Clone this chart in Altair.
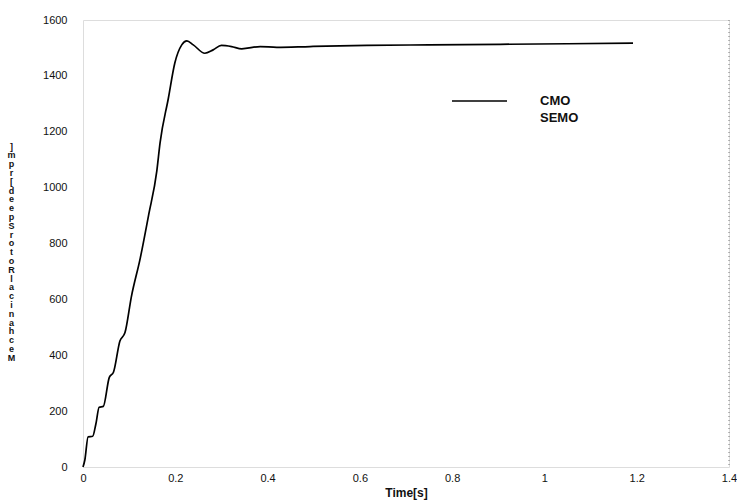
import altair as alt
import pandas as pd

# Time [s] and mechanical rotor speed [rpm]
time_s = [0.000, 0.004, 0.011, 0.021, 0.028, 0.035, 0.044, 0.057, 0.066, 0.080,
          0.091, 0.105, 0.124, 0.142, 0.160, 0.167, 0.185, 0.199, 0.214, 0.225,
          0.239, 0.264, 0.282, 0.300, 0.322, 0.344, 0.384, 0.420, 0.492, 0.615,
          0.750, 0.904, 1.050, 1.192]
speed_rpm = [0, 25, 108, 110, 155, 214, 217, 321, 339, 451,
             481, 611, 747, 900, 1060, 1160, 1320, 1446, 1511, 1525,
             1511, 1481, 1493, 1509, 1505, 1497, 1505, 1502, 1505, 1509,
             1511, 1513, 1515, 1517]

x_ticks = [0, 0.2, 0.4, 0.6, 0.8, 1.0, 1.2, 1.4]
y_ticks = [0, 200, 400, 600, 800, 1000, 1200, 1400, 1600]
legend_labels = ["CMO", "SEMO"]
y_title = "Mechanical Rotor Speed[rpm]"
x_title = "Time[s]"

df = pd.DataFrame({"t": time_s, "w": speed_rpm})

font = "Liberation Sans"

x_enc = alt.X(
    "t:Q",
    scale=alt.Scale(domain=[0, 1.4], nice=False, zero=False),
    axis=alt.Axis(
        values=x_ticks, format="~g", title=x_title, grid=False, domain=False,
        ticks=False, labelFont=font, labelFontSize=11, labelColor="#111",
        labelPadding=5, titleFont=font, titleFontSize=12, titleFontWeight="bold",
        titleColor="#111", titlePadding=4, labelFlush=False, labelOverlap=False,
    ),
)
y_enc = alt.Y(
    "w:Q",
    scale=alt.Scale(domain=[0, 1600], nice=False),
    axis=alt.Axis(
        values=y_ticks, format="d", title=list(reversed(y_title.replace(" ", ""))),
        grid=False, domain=False, ticks=False, labelFont=font, labelFontSize=11,
        labelColor="#111", labelPadding=16, titleFont=font, titleFontSize=9,
        titleFontWeight="bold", titleColor="#111", titleAngle=0,
        titleLineHeight=8.8, titleAlign="center", titleBaseline="middle",
        titleX=-72, titleY=126,
    ),
)

line = alt.Chart(df).mark_line(
    color="black", strokeWidth=1.7, interpolate="monotone"
).encode(x=x_enc, y=y_enc)

border = alt.Chart(pd.DataFrame({"t": [1.4]})).mark_rule(
    color="#777", strokeDash=[1, 3], strokeWidth=1
).encode(x=alt.X("t:Q"))

leg_line = alt.Chart(pd.DataFrame({"a": [0]})).mark_rule(
    color="black", strokeWidth=1.6
).encode(x=alt.value(369), x2=alt.value(424), y=alt.value(81))


def leg_text(label, ypix):
    return alt.Chart(pd.DataFrame({"label": [label]})).mark_text(
        align="left", baseline="middle", font=font, fontSize=13,
        fontWeight="bold", color="#111",
    ).encode(x=alt.value(457), y=alt.value(ypix), text="label:N")


chart = alt.layer(
    line, border, leg_line,
    leg_text(legend_labels[0], 81), leg_text(legend_labels[1], 98),
).properties(
    width=646, height=447,
    autosize=alt.AutoSizeParams(type="none"),
    padding={"left": 83, "top": 20, "right": 8, "bottom": 36},
).configure_view(stroke=None).configure(background="white")

chart.save("out.html", embed_options={"renderer": "svg", "actions": False})
